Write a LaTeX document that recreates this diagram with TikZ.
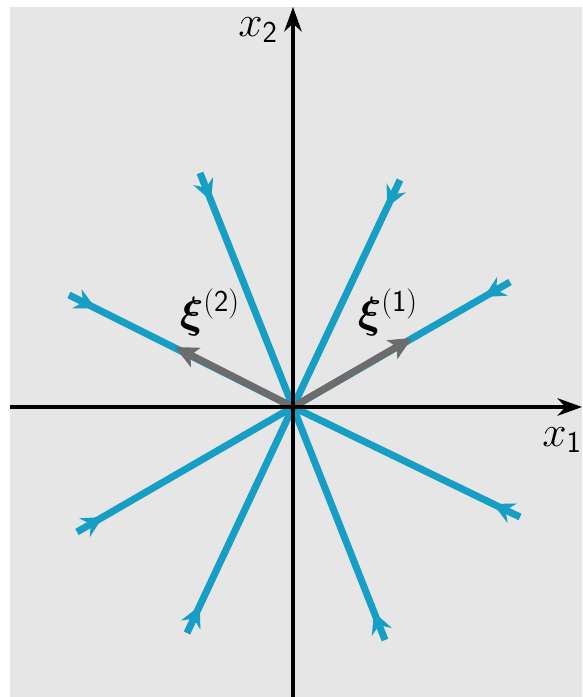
\documentclass[tikz,border=0pt]{standalone}
\usepackage{amsmath,amssymb,bm}
\usepackage{xcolor}
\usepackage{tikz}
\usetikzlibrary{arrows.meta, decorations.markings, positioning, calc}

\definecolor{trajblue}{RGB}{22,158,196}
\definecolor{bggray}{RGB}{230,230,230}
\definecolor{eiggray}{RGB}{108,108,108}

\begin{document}
\begin{tikzpicture}[
    x=0.02cm, y=0.02cm,
    axis/.style={line width=2pt, -{Stealth[length=14pt, width=10pt]}},
    traj/.style={line width=4pt, color=trajblue, postaction={decorate},
        decoration={markings, mark=at position 0.6cm with {\arrow{Stealth[length=12pt, width=12pt, inset=4pt]}}}},
    eig/.style={line width=4pt, color=eiggray, -{Stealth[length=13pt, width=12pt, inset=3pt]}},
    axlabel/.style={font=\fontsize{24}{28}\selectfont},
    veclabel/.style={font=\fontsize{24}{28}\selectfont}
]

% Frame
\useasboundingbox (-293,-290) rectangle (289,407);
\fill[bggray] (-283,-290) rectangle (289,400);

% Origin and trajectory ends
\coordinate (o) at (0,0);
\coordinate (a1) at (-93,234);
\coordinate (b1) at (92,-233);
\coordinate (a2) at (107,227);
\coordinate (b2) at (-106,-226);
\coordinate (a3) at (217,125);
\coordinate (b3) at (-216,-125);
\coordinate (a4) at (-224,112);
\coordinate (b4) at (227,-110);

% Trajectories towards the origin
\foreach \p in {a1,b1,a2,b2,a3,b3,a4,b4}
    \draw[traj] (\p) -- (o);

% Eigenvectors
\coordinate (e1) at (119,69);
\coordinate (e2) at (-118,60);
\draw[eig] (o) -- (e1);
\draw[eig] (o) -- (e2);
\node[veclabel] (xi1) at (95,95) {$\bm{\xi}^{\mathsf{(1)}}$};
\node[veclabel] (xi2) at (-83,95) {$\bm{\xi}^{\mathsf{(2)}}$};

% Axes
\coordinate (xl) at (-283,0);
\coordinate (xr) at (289,0);
\coordinate (yb) at (0,-290);
\coordinate (yt) at (0,400);
\draw[axis] (xl) -- (xr);
\draw[axis] (yb) -- (yt);
\node[axlabel] (x1lab) at (269,-33) {$x_{\mathsf{1}}$};
\node[axlabel] (x2lab) at (-35,377) {$x_{\mathsf{2}}$};

\end{tikzpicture}
\end{document}
